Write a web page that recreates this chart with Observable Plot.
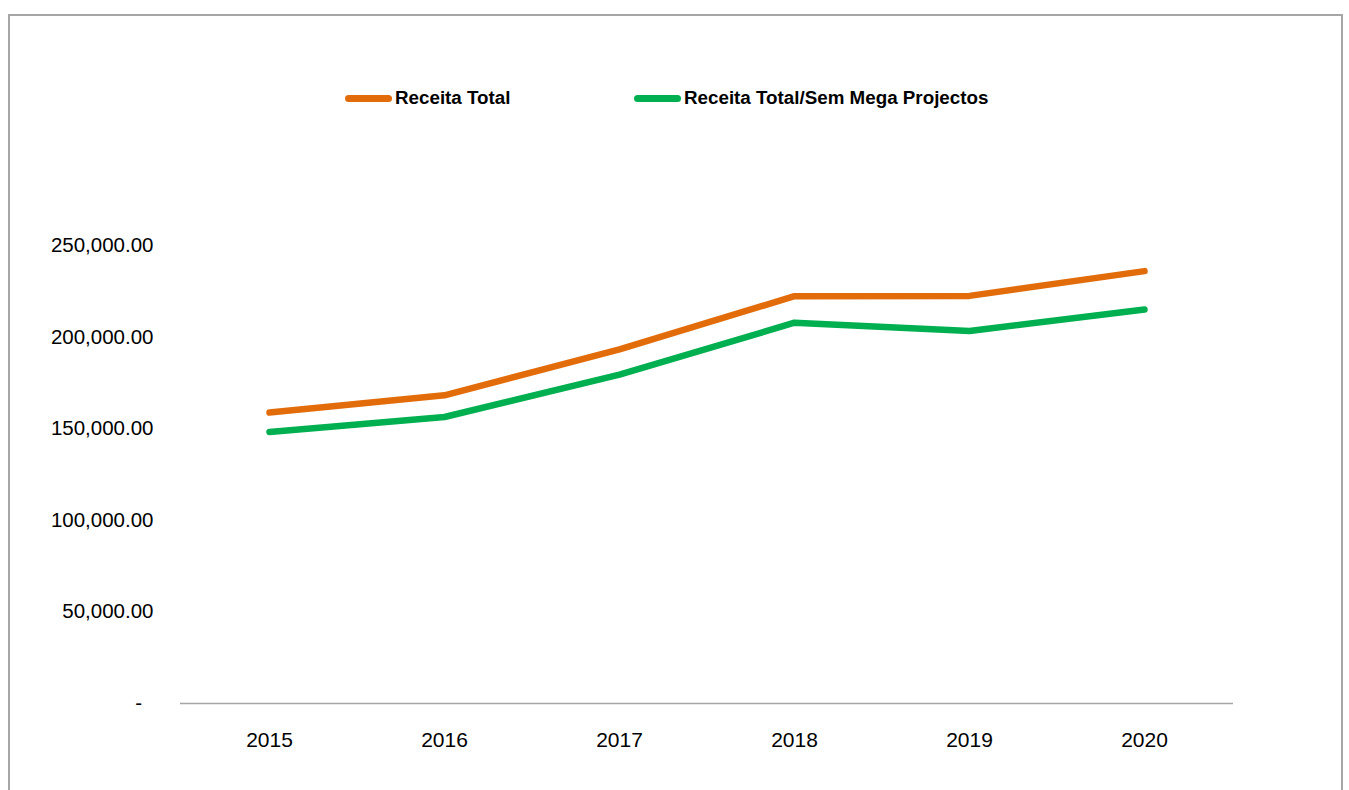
<!DOCTYPE html>
<html>
<head>
<meta charset="utf-8">
<script src="https://cdn.jsdelivr.net/npm/d3@7"></script>
<script src="https://cdn.jsdelivr.net/npm/@observablehq/plot@0.6"></script>
<style>
  html, body { margin: 0; padding: 0; background: #fff; }
  #wrap { position: relative; width: 1349px; height: 790px; overflow: hidden; background: #fff; }
  #border { position: absolute; left: 8px; top: 14px; width: 1335px; height: 800px; border: 2px solid #a6a6a6; box-sizing: border-box; pointer-events: none; }
  .leg { position: absolute; top: 86px; height: 24px; display: flex; align-items: center; font-family: "Liberation Sans", Arial, sans-serif; font-weight: bold; font-size: 18.8px; color: #000; }
  .sw { width: 47px; height: 7px; border-radius: 4px; margin-right: 3px; }
  #chart { position: absolute; left: 0; top: 0; }
</style>
</head>
<body>
<div id="wrap">
  <div id="chart"></div>
  <div id="border"></div>
  <div class="leg" id="leg1" style="left:345px"><div class="sw" style="background:#E36C0A"></div><span>Receita Total</span></div>
  <div class="leg" id="leg2" style="left:634px"><div class="sw" style="background:#00B050"></div><span>Receita Total/Sem Mega Projectos</span></div>
</div>
<script>
const years = [2015, 2016, 2017, 2018, 2019, 2020];
const receitaTotal = [158800, 168200, 193300, 222350, 222500, 236000];
const receitaSemMega = [148200, 156400, 179500, 207850, 203300, 215100];
const seriesNames = ["Receita Total", "Receita Total/Sem Mega Projectos"];
const seriesColors = ["#E36C0A", "#00B050"];
const yTicks = [0, 50000, 100000, 150000, 200000, 250000];

const data = [
  ...years.map((y, i) => ({year: y, value: receitaTotal[i], series: seriesNames[0]})),
  ...years.map((y, i) => ({year: y, value: receitaSemMega[i], series: seriesNames[1]}))
];

const fmt = d3.format(",.2f");
const chart = Plot.plot({
  width: 1349,
  height: 790,
  marginLeft: 180,
  marginRight: 116,
  marginTop: 245,
  marginBottom: 87,
  style: {fontFamily: '"Liberation Sans", Arial, sans-serif', background: "transparent", color: "#000"},
  x: {type: "point", domain: years, padding: 0.5},
  y: {domain: [0, 250000]},
  color: {domain: seriesNames, range: seriesColors},
  marks: [
    Plot.ruleY([0], {stroke: "#a6a6a6", strokeWidth: 1.5}),
    Plot.line(data, {x: "year", y: "value", z: "series", stroke: "series", strokeWidth: 6.5, strokeLinecap: "round", strokeLinejoin: "round"}),
    Plot.axisY({ticks: yTicks, tickSize: 0, tickPadding: 27, fontSize: 20.5, label: null,
      tickFormat: d => d === 0 ? "-\u00a0\u00a0" : fmt(d)}),
    Plot.axisX({tickSize: 0, tickPadding: 29, fontSize: 21, label: null, tickFormat: d => String(d)})
  ]
});
document.getElementById("chart").appendChild(chart);
</script>
</body>
</html>
